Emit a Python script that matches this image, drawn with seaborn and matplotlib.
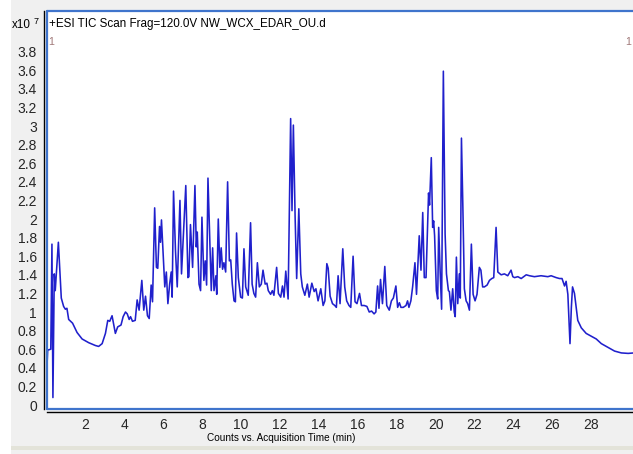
import numpy as np
import pandas as pd
import matplotlib
matplotlib.use("Agg")
import matplotlib.pyplot as plt
from matplotlib.lines import Line2D
from matplotlib.patches import Rectangle
import seaborn as sns

# ---- data (retention time in min, TIC counts in units of 1e7) ----
rt_early = [0.00, 0.06, 0.22, 0.28, 0.33, 0.40, 0.45, 0.61, 0.76, 0.88, 0.97, 1.05, 1.14, 1.34,
            1.43, 1.57, 1.83, 2.17, 2.51, 2.68, 2.86, 3.03, 3.15, 3.25, 3.37, 3.54, 3.66, 3.83,
            3.94, 4.06, 4.15, 4.25, 4.32, 4.42, 4.56, 4.66, 4.76, 4.90, 5.00, 5.09, 5.19, 5.28,
            5.38, 5.45]
tic_early = [0.30, 0.59, 0.60, 1.73, 0.08, 1.41, 1.23, 1.75, 1.15, 1.06, 1.03, 1.04, 0.92, 0.88,
             0.84, 0.78, 0.71, 0.67, 0.64, 0.63, 0.66, 0.77, 0.91, 0.90, 0.96, 0.77, 0.84, 0.86,
             0.95, 1.00, 0.98, 0.92, 0.95, 0.90, 0.91, 1.13, 1.02, 1.34, 1.02, 1.17, 0.96, 0.93,
             1.29, 1.11]

rt_mid1 = [5.56, 5.65, 5.72, 5.81, 5.86, 5.91, 6.08, 6.16, 6.24, 6.33, 6.41, 6.46, 6.53, 6.63,
           6.72, 6.86, 6.94, 7.06, 7.16, 7.27, 7.32, 7.40, 7.51, 7.63, 7.70, 7.75, 7.84, 7.92,
           7.99, 8.09, 8.16, 8.23, 8.30, 8.40, 8.47, 8.54, 8.61, 8.71, 8.75, 8.83, 8.91, 8.98,
           9.05, 9.12, 9.21, 9.31, 9.40, 9.47, 9.55, 9.64, 9.71, 9.77, 9.86, 9.98, 10.07, 10.15,
           10.24, 10.37, 10.49, 10.57, 10.66, 10.75, 10.84, 10.94, 11.04, 11.13, 11.24, 11.33,
           11.40, 11.52, 11.61, 11.69, 11.83, 11.92, 12.04, 12.13, 12.21, 12.30, 12.42]
tic_mid1 = [2.12, 1.48, 1.47, 1.92, 1.75, 1.99, 1.27, 1.43, 1.09, 1.30, 1.43, 1.16, 2.30, 1.66,
            1.27, 2.20, 1.41, 1.93, 2.36, 1.37, 1.38, 1.94, 1.48, 2.36, 1.70, 1.86, 1.30, 1.23,
            2.02, 1.34, 1.55, 1.29, 2.44, 1.73, 1.23, 1.69, 1.23, 1.39, 1.19, 2.00, 1.48, 1.69,
            1.46, 1.53, 1.43, 2.40, 1.55, 1.56, 1.30, 1.12, 1.11, 1.85, 1.37, 1.16, 1.15, 1.68,
            1.27, 1.18, 1.96, 1.30, 1.20, 1.16, 1.53, 1.27, 1.30, 1.45, 1.30, 1.31,
            1.23, 1.19, 1.23, 1.18, 1.48, 1.20, 1.16, 1.28, 1.16, 1.44, 1.14]

rt_mid2 = [12.55, 12.62, 12.69, 12.78, 12.86, 12.97, 13.07, 13.15, 13.28, 13.41, 13.50, 13.64,
           13.76, 13.85, 13.96, 14.10, 14.22, 14.31, 14.41, 14.48, 14.58, 14.70, 14.82, 14.90,
           14.99, 15.09, 15.23, 15.33, 15.43, 15.55, 15.64, 15.76, 15.86, 15.96, 16.09, 16.19,
           16.33, 16.47, 16.59, 16.71, 16.84, 16.93, 17.02, 17.09, 17.17, 17.27, 17.39, 17.49,
           17.62, 17.73, 17.83, 17.96, 18.05, 18.14, 18.22, 18.34, 18.48, 18.56, 18.63, 18.73]
tic_mid2 = [3.08, 2.09, 3.01, 2.02, 1.36, 2.11, 1.41, 1.27, 1.18, 1.30, 1.16, 1.31,
            1.22, 1.25, 1.12, 1.25, 1.07, 1.12, 1.52, 1.47, 1.17, 1.09, 1.07, 1.05,
            1.39, 1.09, 1.68, 1.27, 1.12, 1.07, 1.05, 1.60, 1.11, 1.09, 1.20, 1.07,
            1.07, 1.06, 1.00, 1.01, 0.98, 1.00, 1.28, 1.04, 1.35, 1.09, 1.49, 1.07,
            1.02, 1.12, 1.15, 1.28, 1.05, 1.10, 1.05, 1.05, 1.07, 1.12, 1.05, 1.12]

rt_late1 = [18.82, 18.94, 19.02, 19.16, 19.25, 19.34, 19.42, 19.51, 19.59, 19.64, 19.69, 19.78,
            19.85, 19.90, 19.95, 20.04, 20.11, 20.16, 20.24, 20.31, 20.40, 20.49, 20.56, 20.66,
            20.71, 20.79, 20.88, 20.96, 21.01, 21.07, 21.14, 21.22, 21.27, 21.33, 21.40, 21.48,
            21.57, 21.65, 21.74, 21.84, 21.93, 22.03, 22.13, 22.25, 22.33, 22.42, 22.51, 22.65,
            22.77, 22.89, 22.99, 23.11, 23.20]
tic_late1 = [1.27, 1.53, 1.19, 1.82, 1.45, 2.07, 1.37, 1.37, 1.91, 2.28, 2.15, 2.66,
             1.91, 1.98, 1.82, 1.23, 1.14, 1.91, 1.41, 1.03, 3.59, 1.84, 1.41, 1.23,
             1.22, 1.02, 1.25, 1.00, 0.95, 1.59, 1.09, 1.41, 1.15, 2.87, 2.16, 1.25,
             1.12, 1.09, 1.02, 1.73, 1.19, 1.12, 1.19, 1.48, 1.45, 1.27, 1.27, 1.29,
             1.34, 1.36, 1.37, 1.91, 1.43]

rt_late2 = [23.37, 23.54, 23.71, 23.88, 23.97, 24.06, 24.23, 24.40, 24.66, 24.83, 25.08, 25.42,
            25.77, 25.94, 26.20, 26.37, 26.50, 26.63, 26.71, 26.80, 26.91, 26.98, 27.04, 27.14,
            27.23, 27.31, 27.49, 27.74, 28.00, 28.26, 28.52, 28.86, 29.20, 29.55, 29.90, 30.20]
tic_late2 = [1.40, 1.41, 1.39, 1.45, 1.38, 1.37, 1.38, 1.36, 1.40, 1.39, 1.38, 1.39,
             1.38, 1.39, 1.37, 1.36, 1.36, 1.28, 1.33, 1.19, 0.66, 1.05, 1.27, 1.20,
             1.05, 0.91, 0.83, 0.77, 0.74, 0.71, 0.66, 0.62, 0.58, 0.56, 0.555, 0.56]

x_ticks = [2, 4, 6, 8, 10, 12, 14, 16, 18, 20, 22, 24, 26, 28]
y_ticks = [0, 0.2, 0.4, 0.6, 0.8, 1, 1.2, 1.4, 1.6, 1.8, 2, 2.2, 2.4, 2.6, 2.8, 3, 3.2, 3.4, 3.6, 3.8]
y_tick_labels = ["0", "0.2", "0.4", "0.6", "0.8", "1", "1.2", "1.4", "1.6", "1.8", "2", "2.2",
                 "2.4", "2.6", "2.8", "3", "3.2", "3.4", "3.6", "3.8"]
title_text = "+ESI TIC Scan Frag=120.0V NW_WCX_EDAR_OU.d"
x_label = "Counts vs. Acquisition Time (min)"

df = pd.DataFrame({
    "rt": rt_early + rt_mid1 + rt_mid2 + rt_late1 + rt_late2,
    "tic": tic_early + tic_mid1 + tic_mid2 + tic_late1 + tic_late2,
})

sns.set_style("white")
plt.rcParams["font.family"] = ["Liberation Sans", "DejaVu Sans"]

W, H = 633, 454
fig = plt.figure(figsize=(W / 100, H / 100), dpi=100)
fig.patch.set_facecolor("#f0f0f0")

# decorative background strips
fig.add_artist(Rectangle((0, 0), 11 / W, 1, transform=fig.transFigure, facecolor="white",
                         edgecolor="none", zorder=-5))
fig.add_artist(Rectangle((11 / W, 1 - 450 / H), 1, 4 / H, transform=fig.transFigure,
                         facecolor="#e3e3d9", edgecolor="none", zorder=-5))

left, right, top, bottom = 46.5, 634, 11, 409
ax = fig.add_axes([left / W, 1 - bottom / H, (right - left) / W, (bottom - top) / H])
ax.set_facecolor("white")

sns.lineplot(data=df, x="rt", y="tic", ax=ax, color="#2020cc", linewidth=1.15,
             estimator=None, sort=False)

ax.set_xlim(0, 30.2)
ax.set_ylim(-0.043, 4.237)

ax.set_xticks(x_ticks)
ax.set_xticklabels([str(t) for t in x_ticks], fontsize=8, color="#202020")
ax.set_yticks(y_ticks)
ax.set_yticklabels(y_tick_labels, fontsize=7.7, color="#202020")
ax.tick_params(axis="x", direction="out", length=3.5, width=0.8, color="black", pad=0.8)
ax.tick_params(axis="y", direction="out", length=3.5, width=0.8, color="black", pad=1.5)
ax.set_xlabel("")
ax.set_ylabel("")

for s in ["right", "top"]:
    ax.spines[s].set_visible(False)
ax.spines["left"].set_color("black")
ax.spines["left"].set_linewidth(1.0)
ax.spines["left"].set_position(("outward", 2.0))
ax.spines["bottom"].set_color("black")
ax.spines["bottom"].set_linewidth(1.0)
ax.spines["bottom"].set_position(("outward", 2.3))

frame_c = "#3f74cc"
for xs, ys in [([0, 0], [0, 1]), ([0, 1], [1, 1]), ([0, 1], [0, 0])]:
    ax.add_line(Line2D(xs, ys, transform=ax.transAxes, color=frame_c, linewidth=1.6,
                       clip_on=False, zorder=5))

ax.text(0.0085, 0.921, "1", transform=ax.transAxes, fontsize=7.7, color="#a07878",
        ha="center", va="center")
ax.text(0.9906, 0.921, "1", transform=ax.transAxes, fontsize=7.7, color="#a07878",
        ha="center", va="center")

fig.text(49 / W, 1 - 23.5 / H, title_text, fontsize=8.4, color="black", ha="left", va="center")
fig.text(12 / W, 1 - 24.5 / H, "x10", fontsize=8.4, color="black", ha="left", va="center")
fig.text(33.5 / W, 1 - 21 / H, "7", fontsize=6.5, color="black", ha="left", va="center")
fig.text(281 / W, 1 - 438 / H, x_label, fontsize=7.2, color="black", ha="center", va="center")

fig.savefig("out.png", dpi=100, facecolor=fig.get_facecolor())
